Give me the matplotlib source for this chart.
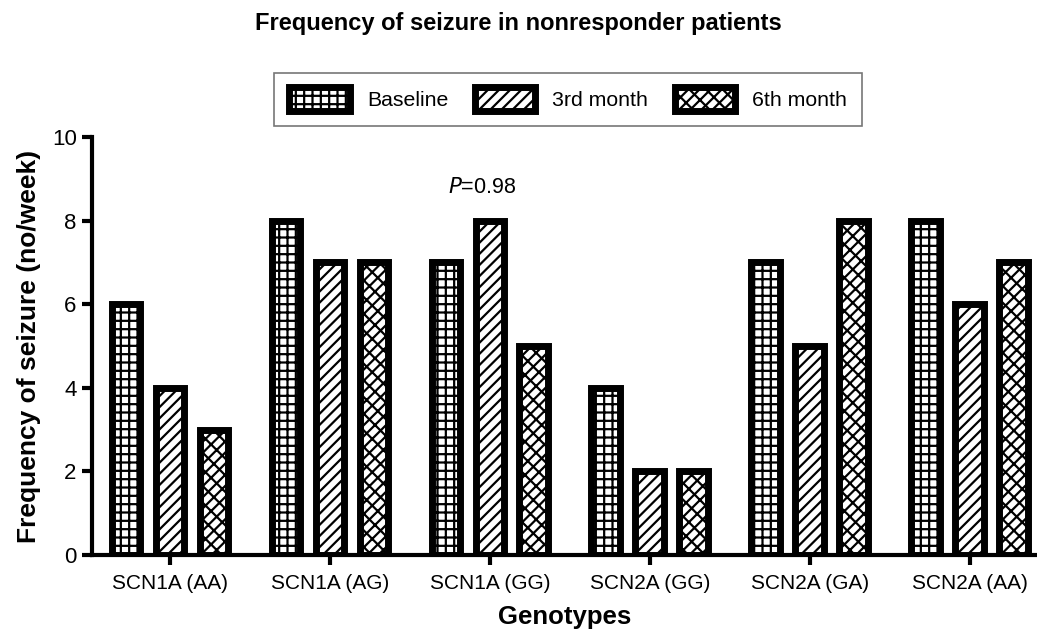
import matplotlib.pyplot as plt
import numpy as np

plt.rcParams['font.family'] = ['Liberation Sans', 'DejaVu Sans']
plt.rcParams['hatch.linewidth'] = 1.6

# data
genotypes = ['SCN1A (AA)', 'SCN1A (AG)', 'SCN1A (GG)',
             'SCN2A (GG)', 'SCN2A (GA)', 'SCN2A (AA)']
baseline = [6, 8, 7, 4, 7, 8]
month3 = [4, 7, 8, 2, 5, 6]
month6 = [3, 7, 5, 2, 8, 7]
series_names = ['Baseline', '3rd month', '6th month']

x = np.arange(len(genotypes))
width = 0.18
offset = 0.275

fig = plt.figure(figsize=(10.37, 6.31), dpi=100)
ax = fig.add_axes([0.0887, 0.1204, 0.9113, 0.6625])

b1 = ax.bar(x - offset, baseline, width, facecolor='white', edgecolor='black',
            linewidth=5, hatch='++', label=series_names[0])
b2 = ax.bar(x, month3, width, facecolor='white', edgecolor='black',
            linewidth=5, hatch='///', label=series_names[1])
b3 = ax.bar(x + offset, month6, width, facecolor='white', edgecolor='black',
            linewidth=5, hatch='///\\\\', label=series_names[2])

ax.set_xlim(-0.4875, 5.42)
ax.set_ylim(0, 10)
ax.set_yticks([0, 2, 4, 6, 8, 10])
ax.set_xticks(x)
ax.set_xticklabels(genotypes, fontsize=15)
ax.tick_params(axis='y', labelsize=16, width=3, length=7, pad=4)
ax.tick_params(axis='x', width=3, length=7, pad=7)

for side in ['top', 'right']:
    ax.spines[side].set_visible(False)
for side in ['left', 'bottom']:
    ax.spines[side].set_linewidth(3)

ax.set_xlabel('Genotypes', fontsize=18.5, fontweight='bold', labelpad=8)
ax.set_ylabel('Frequency of seizure (no/week)', fontsize=19, fontweight='bold', labelpad=8)

ax.text(1.95, 8.8, r'$\it{P}$=0.98', fontsize=15.5, ha='center', va='center')

fig.suptitle('Frequency of seizure in nonresponder patients', fontsize=17,
             fontweight='bold', x=0.50, y=0.962, va='center')

leg = fig.legend(handles=[b1, b2, b3], loc='center', bbox_to_anchor=(0.548, 0.843),
                 ncol=3, fontsize=15.3, fancybox=False, edgecolor='#555555',
                 handlelength=2.85, handleheight=1.3, columnspacing=1.25,
                 borderpad=0.7, handletextpad=0.8)
leg.get_frame().set_linewidth(1.2)

plt.savefig('out.png', dpi=100)
